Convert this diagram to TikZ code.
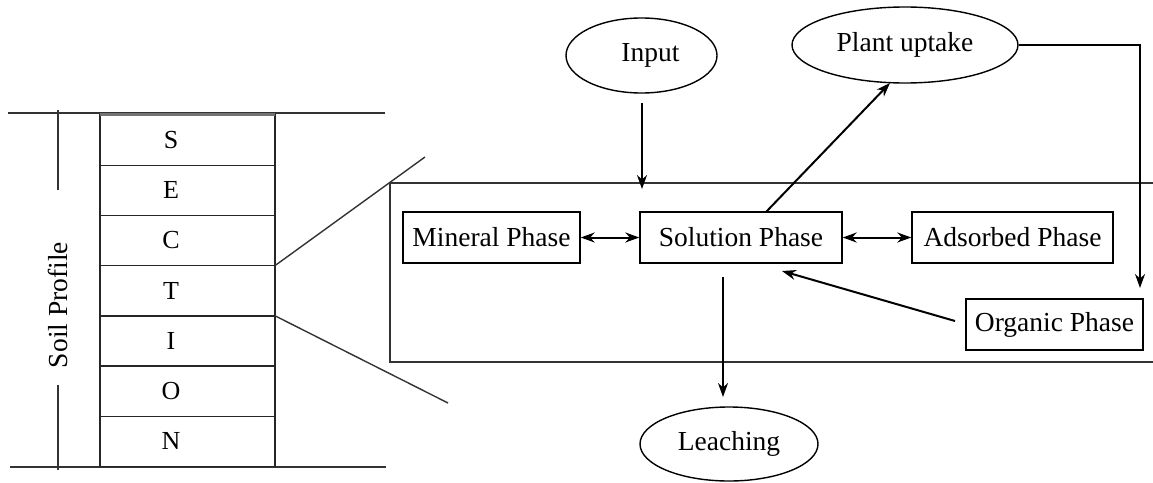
\documentclass[tikz,border=0pt]{standalone}
\usepackage{fontspec}
\setmainfont{Liberation Serif}
\usetikzlibrary{arrows.meta,shapes.geometric}
\begin{document}
\begin{tikzpicture}[x=1pt,y=-1pt,
  thinline/.style={line width=1.4pt,black!80},
  arr/.style={line width=2pt,-{Stealth[length=14pt,width=10pt]}},
  darr/.style={line width=2pt,{Stealth[length=14pt,width=10pt]}-{Stealth[length=14pt,width=10pt]}},
  phase/.style={draw,line width=1.4pt,rectangle,inner sep=0pt,font=\fontsize{27.5}{30}\selectfont},
  oval/.style={draw,line width=1.4pt,ellipse,inner sep=0pt,font=\fontsize{27.5}{30}\selectfont},
  letter/.style={inner sep=0pt,font=\fontsize{26}{30}\selectfont}]
\useasboundingbox (0,0) rectangle (1153,482);
% soil column
\draw[thinline] (8,113) -- (385,113);
\draw[thinline] (10,467) -- (386,467);
\draw[thinline] (58,110) -- (58,190);
\draw[thinline] (58,385) -- (58,470);
\node[inner sep=0pt,rotate=90,font=\fontsize{27.5}{30}\selectfont] (sp) at (58,305) {Soil Profile};
\foreach \i/\l in {0/S,1/E,2/C,3/T,4/I,5/O,6/N}{
  \draw[line width=1.4pt,black!85] (100,{115+\i*50.2}) rectangle (275,{115+(\i+1)*50.2});
  \node[letter] (row\l) at (171,{140+\i*50.2}) {\l};
}
\draw[line width=3pt,black!55] (100,114) -- (275,114);
% zoom lines
\coordinate (zt) at (275,265.6);
\coordinate (zb) at (275,315.8);
\coordinate (zte) at (425,157);
\coordinate (zbe) at (448,403);
\draw[thinline] (zt) -- (zte);
\draw[thinline] (zb) -- (zbe);
% big box
\draw[thinline] (1153,183) -- (390,183) -- (390,362) -- (1153,362);
% phases
\node[phase,minimum width=177pt,minimum height=51pt] (min) at (491.5,237.5) {Mineral Phase};
\node[phase,minimum width=202pt,minimum height=51pt] (sol) at (741,237.5) {Solution Phase};
\node[phase,minimum width=201pt,minimum height=51pt] (ads) at (1012.5,237.5) {Adsorbed Phase};
\node[phase,minimum width=177pt,minimum height=51pt] (org) at (1054.5,324.5) {Organic Phase};
\node[oval,minimum width=151pt,minimum height=75pt] (inp) at (641.5,55.5) {\hspace{18pt}Input};
\node[oval,minimum width=226pt,minimum height=76pt] (pu) at (905,45) {Plant uptake};
\node[oval,minimum width=178pt,minimum height=74pt] (lea) at (729,444) {Leaching};
% arrows
\coordinate (inst) at (642,103);
\coordinate (inend) at (642,189);
\draw[arr] (inst) -- (inend);
\draw[darr] (min.east) -- (sol.west);
\draw[darr] (sol.east) -- (ads.west);
\coordinate (pust) at (766,212);
\coordinate (puend) at (890,83);
\draw[arr] (pust) -- (puend);
\coordinate (orgtop) at (1140,288);
\draw[arr] (pu.east) -- (pu.east -| orgtop) -- (orgtop);
\coordinate (orgst) at (955,321);
\coordinate (solin) at (782,271);
\draw[arr] (orgst) -- (solin);
\coordinate (least) at (723,277);
\coordinate (leaend) at (723,397);
\draw[arr] (least) -- (leaend);
\end{tikzpicture}
\end{document}
